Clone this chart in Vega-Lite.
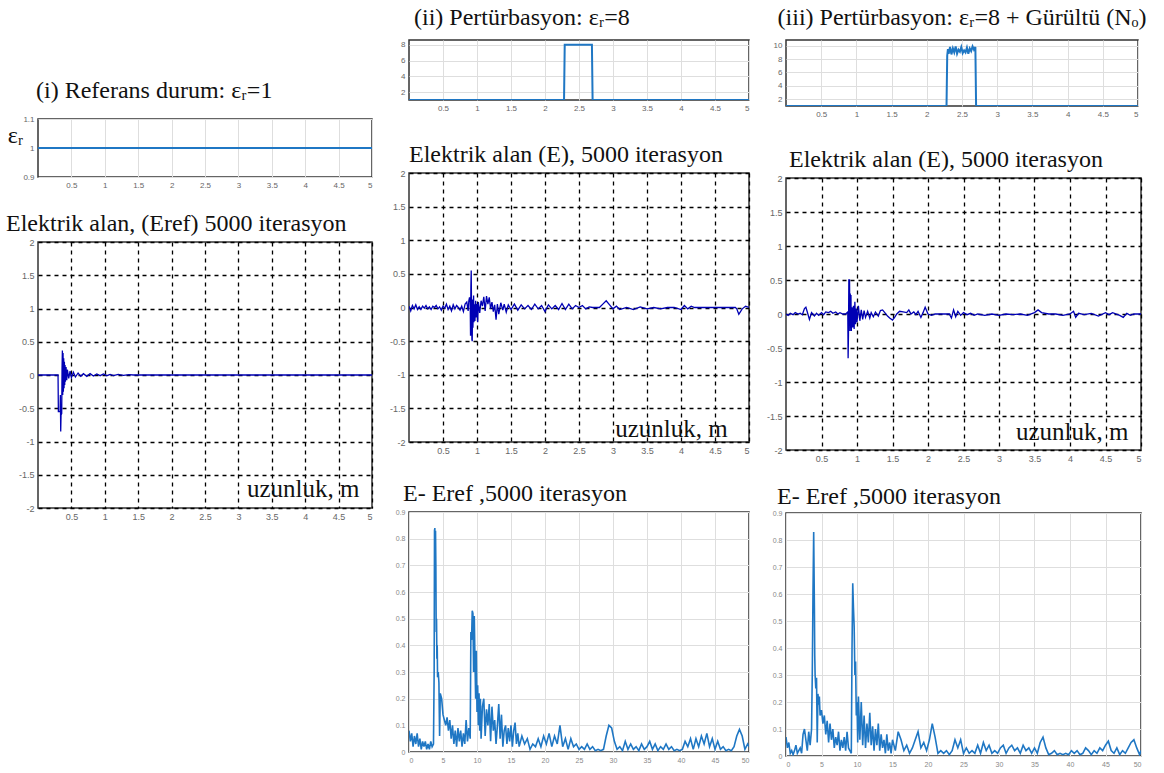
{
"$schema": "https://vega.github.io/schema/vega-lite/v6.json",
"background": "white",
"padding": {"left": 5, "top": 5, "right": 0, "bottom": 0},
"config": {
  "view": {"stroke": "#333", "strokeWidth": 1.5},
  "axis": {"labelFont": "Liberation Sans", "labelFontSize": 9, "labelColor": "#666", "domain": false, "ticks": false, "labelPadding": 4, "labelOverlap": false, "labelBound": false, "gridColor": "#dedede", "title": null, "labelExpr": "(datum.value < 0 ? '-' : '') + abs(datum.value)"},
  "title": {"font": "Liberation Serif", "fontSize": 24, "fontWeight": "normal", "color": "#111", "anchor": "start", "frame": "group", "offset": 10}
},
"datasets": {
  "eps_i": [{"x": 0, "y": 1}, {"x": 5, "y": 1}],
  "eps_ii": [{"x": 0, "y": 1}, {"x": 2.28, "y": 1}, {"x": 2.29, "y": 8}, {"x": 2.69, "y": 8}, {"x": 2.7, "y": 1}, {"x": 5, "y": 1}],
  "eps_iii": [{"x": 0, "y": 1}, {"x": 2.28, "y": 1}, {"x": 2.29, "y": 8.5}, {"x": 2.3, "y": 9.5}, {"x": 2.31, "y": 8.8}, {"x": 2.33, "y": 9.8}, {"x": 2.35, "y": 8.7}, {"x": 2.37, "y": 9.6}, {"x": 2.39, "y": 9.0}, {"x": 2.41, "y": 9.9}, {"x": 2.43, "y": 8.8}, {"x": 2.45, "y": 9.4}, {"x": 2.47, "y": 9.1}, {"x": 2.49, "y": 9.8}, {"x": 2.51, "y": 8.9}, {"x": 2.53, "y": 9.3}, {"x": 2.55, "y": 9.0}, {"x": 2.57, "y": 9.7}, {"x": 2.59, "y": 8.8}, {"x": 2.61, "y": 9.6}, {"x": 2.63, "y": 9.2}, {"x": 2.65, "y": 9.9}, {"x": 2.67, "y": 9.4}, {"x": 2.69, "y": 9.8}, {"x": 2.7, "y": 1}, {"x": 5, "y": 1}],
  "E_ref": [{"x": 0, "y": 0}, {"x": 0.3, "y": 0}, {"x": 0.305, "y": -0.55}, {"x": 0.33, "y": -0.55}, {"x": 0.335, "y": -0.3}, {"x": 0.34, "y": -0.85}, {"x": 0.345, "y": -0.6}, {"x": 0.355, "y": -0.58}, {"x": 0.36, "y": 0.1}, {"x": 0.365, "y": 0.37}, {"x": 0.37, "y": -0.3}, {"x": 0.375, "y": 0.33}, {"x": 0.38, "y": -0.25}, {"x": 0.385, "y": 0.25}, {"x": 0.39, "y": -0.2}, {"x": 0.395, "y": 0.2}, {"x": 0.4, "y": -0.15}, {"x": 0.405, "y": 0.15}, {"x": 0.41, "y": -0.1}, {"x": 0.42, "y": 0.12}, {"x": 0.43, "y": -0.08}, {"x": 0.44, "y": 0.08}, {"x": 0.46, "y": -0.05}, {"x": 0.48, "y": 0.06}, {"x": 0.5, "y": -0.04}, {"x": 0.53, "y": 0.04}, {"x": 0.56, "y": -0.03}, {"x": 0.6, "y": 0.03}, {"x": 0.64, "y": -0.02}, {"x": 0.68, "y": 0.02}, {"x": 0.73, "y": -0.02}, {"x": 0.78, "y": 0.02}, {"x": 0.83, "y": -0.015}, {"x": 0.88, "y": 0.015}, {"x": 0.93, "y": -0.01}, {"x": 0.98, "y": 0.015}, {"x": 1.03, "y": -0.01}, {"x": 1.08, "y": 0.01}, {"x": 1.13, "y": -0.01}, {"x": 1.2, "y": 0.01}, {"x": 1.28, "y": -0.005}, {"x": 1.36, "y": 0.005}, {"x": 1.43, "y": 0}, {"x": 5, "y": 0}],
  "E_ii": [{"x": 0, "y": 0.02}, {"x": 0.025, "y": -0.05}, {"x": 0.05, "y": 0.03}, {"x": 0.075, "y": -0.02}, {"x": 0.1, "y": 0.04}, {"x": 0.125, "y": -0.03}, {"x": 0.15, "y": 0.01}, {"x": 0.175, "y": -0.03}, {"x": 0.2, "y": 0.02}, {"x": 0.225, "y": -0.01}, {"x": 0.25, "y": 0.03}, {"x": 0.275, "y": -0.02}, {"x": 0.3, "y": 0.01}, {"x": 0.325, "y": -0.03}, {"x": 0.35, "y": 0.02}, {"x": 0.375, "y": 0.0}, {"x": 0.4, "y": 0.03}, {"x": 0.425, "y": -0.02}, {"x": 0.45, "y": 0.01}, {"x": 0.475, "y": -0.04}, {"x": 0.5, "y": 0.02}, {"x": 0.525, "y": -0.01}, {"x": 0.55, "y": 0.05}, {"x": 0.575, "y": -0.03}, {"x": 0.6, "y": 0.02}, {"x": 0.625, "y": -0.05}, {"x": 0.65, "y": 0.04}, {"x": 0.675, "y": -0.02}, {"x": 0.7, "y": 0.03}, {"x": 0.725, "y": 0.0}, {"x": 0.75, "y": -0.04}, {"x": 0.775, "y": 0.02}, {"x": 0.8, "y": -0.06}, {"x": 0.825, "y": 0.05}, {"x": 0.85, "y": 0.08}, {"x": 0.87, "y": -0.05}, {"x": 0.88, "y": 0.1}, {"x": 0.89, "y": 0.15}, {"x": 0.9, "y": 0.08}, {"x": 0.905, "y": -0.42}, {"x": 0.91, "y": 0.3}, {"x": 0.915, "y": 0.55}, {"x": 0.92, "y": -0.05}, {"x": 0.925, "y": -0.48}, {"x": 0.93, "y": -0.5}, {"x": 0.935, "y": 0.12}, {"x": 0.94, "y": -0.3}, {"x": 0.95, "y": 0.18}, {"x": 0.955, "y": -0.22}, {"x": 0.96, "y": 0.05}, {"x": 0.97, "y": -0.2}, {"x": 0.98, "y": 0.1}, {"x": 0.99, "y": -0.15}, {"x": 1.0, "y": 0.05}, {"x": 1.01, "y": -0.22}, {"x": 1.02, "y": 0.08}, {"x": 1.04, "y": -0.08}, {"x": 1.06, "y": 0.1}, {"x": 1.08, "y": 0.02}, {"x": 1.1, "y": 0.16}, {"x": 1.12, "y": -0.05}, {"x": 1.14, "y": 0.17}, {"x": 1.16, "y": 0.05}, {"x": 1.18, "y": 0.15}, {"x": 1.2, "y": -0.02}, {"x": 1.22, "y": 0.08}, {"x": 1.24, "y": -0.06}, {"x": 1.26, "y": 0.04}, {"x": 1.28, "y": -0.18}, {"x": 1.3, "y": 0.05}, {"x": 1.32, "y": -0.1}, {"x": 1.35, "y": 0.07}, {"x": 1.38, "y": -0.04}, {"x": 1.4, "y": 0.05}, {"x": 1.43, "y": -0.07}, {"x": 1.46, "y": 0.04}, {"x": 1.5, "y": -0.03}, {"x": 1.55, "y": 0.05}, {"x": 1.6, "y": -0.04}, {"x": 1.65, "y": 0.04}, {"x": 1.7, "y": -0.02}, {"x": 1.75, "y": 0.03}, {"x": 1.8, "y": -0.03}, {"x": 1.85, "y": 0.05}, {"x": 1.9, "y": -0.02}, {"x": 1.95, "y": 0.03}, {"x": 2.0, "y": -0.06}, {"x": 2.05, "y": 0.04}, {"x": 2.1, "y": -0.02}, {"x": 2.15, "y": 0.03}, {"x": 2.2, "y": -0.03}, {"x": 2.25, "y": 0.06}, {"x": 2.3, "y": -0.03}, {"x": 2.35, "y": 0.05}, {"x": 2.4, "y": -0.02}, {"x": 2.45, "y": 0.03}, {"x": 2.5, "y": 0.0}, {"x": 2.55, "y": 0.03}, {"x": 2.6, "y": -0.02}, {"x": 2.65, "y": 0.01}, {"x": 2.7, "y": 0.0}, {"x": 2.8, "y": 0.0}, {"x": 2.85, "y": 0.05}, {"x": 2.9, "y": 0.1}, {"x": 2.95, "y": 0.04}, {"x": 3.0, "y": -0.02}, {"x": 3.05, "y": 0.02}, {"x": 3.1, "y": -0.03}, {"x": 3.2, "y": 0.0}, {"x": 3.3, "y": -0.03}, {"x": 3.4, "y": 0.01}, {"x": 3.5, "y": -0.02}, {"x": 3.6, "y": 0.0}, {"x": 3.7, "y": -0.02}, {"x": 3.8, "y": 0.0}, {"x": 3.9, "y": 0.0}, {"x": 4.0, "y": -0.03}, {"x": 4.05, "y": 0.03}, {"x": 4.1, "y": -0.02}, {"x": 4.15, "y": 0.02}, {"x": 4.2, "y": 0.0}, {"x": 4.8, "y": 0.0}, {"x": 4.82, "y": -0.02}, {"x": 4.85, "y": -0.1}, {"x": 4.9, "y": -0.02}, {"x": 4.95, "y": 0.02}, {"x": 5.0, "y": 0.0}],
  "E_iii": [{"x": 0, "y": 0.0}, {"x": 0.03, "y": -0.02}, {"x": 0.06, "y": 0.01}, {"x": 0.1, "y": -0.01}, {"x": 0.13, "y": 0.02}, {"x": 0.17, "y": 0.0}, {"x": 0.2, "y": 0.01}, {"x": 0.23, "y": -0.01}, {"x": 0.26, "y": 0.08}, {"x": 0.28, "y": 0.1}, {"x": 0.3, "y": 0.03}, {"x": 0.33, "y": -0.08}, {"x": 0.36, "y": 0.02}, {"x": 0.4, "y": -0.03}, {"x": 0.43, "y": 0.01}, {"x": 0.46, "y": -0.02}, {"x": 0.5, "y": 0.02}, {"x": 0.53, "y": -0.01}, {"x": 0.56, "y": 0.03}, {"x": 0.6, "y": 0.02}, {"x": 0.63, "y": 0.04}, {"x": 0.66, "y": 0.01}, {"x": 0.7, "y": 0.03}, {"x": 0.73, "y": 0.0}, {"x": 0.76, "y": 0.02}, {"x": 0.8, "y": 0.0}, {"x": 0.84, "y": 0.0}, {"x": 0.87, "y": 0.03}, {"x": 0.875, "y": -0.65}, {"x": 0.88, "y": -0.3}, {"x": 0.885, "y": 0.5}, {"x": 0.895, "y": 0.5}, {"x": 0.9, "y": -0.25}, {"x": 0.905, "y": 0.3}, {"x": 0.91, "y": -0.2}, {"x": 0.915, "y": 0.28}, {"x": 0.92, "y": -0.25}, {"x": 0.93, "y": 0.1}, {"x": 0.94, "y": -0.2}, {"x": 0.95, "y": 0.12}, {"x": 0.96, "y": -0.22}, {"x": 0.97, "y": 0.18}, {"x": 0.98, "y": -0.15}, {"x": 0.99, "y": 0.08}, {"x": 1.0, "y": -0.12}, {"x": 1.02, "y": 0.12}, {"x": 1.04, "y": -0.1}, {"x": 1.06, "y": 0.06}, {"x": 1.08, "y": -0.08}, {"x": 1.1, "y": 0.05}, {"x": 1.12, "y": -0.05}, {"x": 1.15, "y": 0.04}, {"x": 1.18, "y": -0.06}, {"x": 1.2, "y": 0.02}, {"x": 1.23, "y": -0.04}, {"x": 1.26, "y": 0.03}, {"x": 1.3, "y": -0.03}, {"x": 1.33, "y": 0.05}, {"x": 1.36, "y": 0.06}, {"x": 1.4, "y": 0.01}, {"x": 1.43, "y": -0.03}, {"x": 1.46, "y": -0.06}, {"x": 1.5, "y": -0.09}, {"x": 1.53, "y": -0.05}, {"x": 1.56, "y": 0.0}, {"x": 1.6, "y": 0.04}, {"x": 1.65, "y": 0.03}, {"x": 1.7, "y": 0.02}, {"x": 1.73, "y": 0.06}, {"x": 1.76, "y": 0.0}, {"x": 1.8, "y": 0.03}, {"x": 1.83, "y": -0.01}, {"x": 1.86, "y": 0.04}, {"x": 1.9, "y": -0.05}, {"x": 1.93, "y": 0.02}, {"x": 1.96, "y": 0.1}, {"x": 2.0, "y": 0.0}, {"x": 2.05, "y": -0.02}, {"x": 2.1, "y": 0.0}, {"x": 2.3, "y": 0.0}, {"x": 2.33, "y": -0.06}, {"x": 2.36, "y": 0.06}, {"x": 2.39, "y": -0.04}, {"x": 2.42, "y": 0.04}, {"x": 2.46, "y": -0.02}, {"x": 2.5, "y": 0.02}, {"x": 2.55, "y": -0.01}, {"x": 2.6, "y": 0.01}, {"x": 2.65, "y": -0.02}, {"x": 2.7, "y": 0.0}, {"x": 2.8, "y": -0.02}, {"x": 2.9, "y": 0.0}, {"x": 3.0, "y": -0.02}, {"x": 3.1, "y": 0.0}, {"x": 3.2, "y": -0.01}, {"x": 3.3, "y": 0.0}, {"x": 3.4, "y": -0.02}, {"x": 3.5, "y": 0.02}, {"x": 3.55, "y": 0.06}, {"x": 3.6, "y": 0.02}, {"x": 3.7, "y": 0.0}, {"x": 3.8, "y": 0.0}, {"x": 3.9, "y": -0.02}, {"x": 4.0, "y": 0.0}, {"x": 4.05, "y": 0.04}, {"x": 4.08, "y": -0.05}, {"x": 4.12, "y": 0.01}, {"x": 4.2, "y": -0.01}, {"x": 4.3, "y": 0.01}, {"x": 4.4, "y": -0.03}, {"x": 4.5, "y": 0.02}, {"x": 4.55, "y": -0.01}, {"x": 4.6, "y": 0.02}, {"x": 4.7, "y": -0.02}, {"x": 4.75, "y": -0.05}, {"x": 4.8, "y": 0.01}, {"x": 4.85, "y": -0.02}, {"x": 4.9, "y": 0.0}, {"x": 5.0, "y": 0.0}],
  "S_ii": [{"x": 0, "y": 0.08}, {"x": 0.2, "y": 0.04}, {"x": 0.4, "y": 0.07}, {"x": 0.6, "y": 0.02}, {"x": 0.8, "y": 0.06}, {"x": 1.0, "y": 0.03}, {"x": 1.2, "y": 0.07}, {"x": 1.4, "y": 0.02}, {"x": 1.6, "y": 0.05}, {"x": 1.8, "y": 0.01}, {"x": 2.0, "y": 0.04}, {"x": 2.2, "y": 0.02}, {"x": 2.4, "y": 0.04}, {"x": 2.6, "y": 0.01}, {"x": 2.8, "y": 0.03}, {"x": 3.0, "y": 0.01}, {"x": 3.2, "y": 0.04}, {"x": 3.4, "y": 0.02}, {"x": 3.6, "y": 0.03}, {"x": 3.7, "y": 0.3}, {"x": 3.75, "y": 0.83}, {"x": 3.8, "y": 0.84}, {"x": 3.85, "y": 0.6}, {"x": 3.9, "y": 0.83}, {"x": 3.95, "y": 0.7}, {"x": 4.0, "y": 0.45}, {"x": 4.05, "y": 0.5}, {"x": 4.1, "y": 0.35}, {"x": 4.15, "y": 0.4}, {"x": 4.2, "y": 0.28}, {"x": 4.3, "y": 0.3}, {"x": 4.4, "y": 0.26}, {"x": 4.5, "y": 0.06}, {"x": 4.6, "y": 0.22}, {"x": 4.8, "y": 0.2}, {"x": 5.0, "y": 0.14}, {"x": 5.2, "y": 0.12}, {"x": 5.4, "y": 0.1}, {"x": 5.6, "y": 0.13}, {"x": 5.8, "y": 0.08}, {"x": 6.0, "y": 0.12}, {"x": 6.2, "y": 0.05}, {"x": 6.4, "y": 0.1}, {"x": 6.6, "y": 0.03}, {"x": 6.8, "y": 0.08}, {"x": 7.0, "y": 0.02}, {"x": 7.2, "y": 0.09}, {"x": 7.4, "y": 0.04}, {"x": 7.6, "y": 0.08}, {"x": 7.8, "y": 0.02}, {"x": 8.0, "y": 0.07}, {"x": 8.2, "y": 0.03}, {"x": 8.4, "y": 0.12}, {"x": 8.6, "y": 0.04}, {"x": 8.8, "y": 0.09}, {"x": 9.0, "y": 0.05}, {"x": 9.1, "y": 0.45}, {"x": 9.2, "y": 0.42}, {"x": 9.3, "y": 0.53}, {"x": 9.4, "y": 0.52}, {"x": 9.5, "y": 0.3}, {"x": 9.6, "y": 0.51}, {"x": 9.7, "y": 0.35}, {"x": 9.8, "y": 0.2}, {"x": 9.9, "y": 0.38}, {"x": 10.0, "y": 0.15}, {"x": 10.1, "y": 0.25}, {"x": 10.2, "y": 0.1}, {"x": 10.3, "y": 0.22}, {"x": 10.4, "y": 0.08}, {"x": 10.5, "y": 0.2}, {"x": 10.6, "y": 0.05}, {"x": 10.8, "y": 0.17}, {"x": 11.0, "y": 0.2}, {"x": 11.2, "y": 0.06}, {"x": 11.4, "y": 0.16}, {"x": 11.6, "y": 0.1}, {"x": 11.8, "y": 0.18}, {"x": 12.0, "y": 0.04}, {"x": 12.2, "y": 0.17}, {"x": 12.4, "y": 0.08}, {"x": 12.6, "y": 0.12}, {"x": 12.8, "y": 0.03}, {"x": 13.0, "y": 0.1}, {"x": 13.2, "y": 0.18}, {"x": 13.4, "y": 0.05}, {"x": 13.6, "y": 0.14}, {"x": 13.8, "y": 0.02}, {"x": 14.0, "y": 0.08}, {"x": 14.2, "y": 0.1}, {"x": 14.4, "y": 0.03}, {"x": 14.6, "y": 0.09}, {"x": 14.8, "y": 0.04}, {"x": 15.0, "y": 0.1}, {"x": 15.2, "y": 0.02}, {"x": 15.4, "y": 0.08}, {"x": 15.6, "y": 0.11}, {"x": 15.8, "y": 0.03}, {"x": 16.0, "y": 0.07}, {"x": 16.2, "y": 0.02}, {"x": 16.6, "y": 0.06}, {"x": 17.0, "y": 0.03}, {"x": 17.4, "y": 0.05}, {"x": 17.8, "y": 0.01}, {"x": 18.2, "y": 0.03}, {"x": 18.6, "y": 0.02}, {"x": 19.0, "y": 0.05}, {"x": 19.4, "y": 0.02}, {"x": 19.8, "y": 0.06}, {"x": 20.2, "y": 0.03}, {"x": 20.6, "y": 0.07}, {"x": 21.0, "y": 0.02}, {"x": 21.4, "y": 0.06}, {"x": 21.8, "y": 0.03}, {"x": 22.2, "y": 0.1}, {"x": 22.6, "y": 0.02}, {"x": 23.0, "y": 0.05}, {"x": 23.4, "y": 0.01}, {"x": 23.8, "y": 0.05}, {"x": 24.2, "y": 0.02}, {"x": 24.6, "y": 0.03}, {"x": 25.0, "y": 0.01}, {"x": 25.4, "y": 0.02}, {"x": 25.8, "y": 0.01}, {"x": 26.2, "y": 0.03}, {"x": 26.6, "y": 0.01}, {"x": 27.0, "y": 0.02}, {"x": 27.4, "y": 0.005}, {"x": 27.8, "y": 0.01}, {"x": 28.2, "y": 0.005}, {"x": 28.6, "y": 0.01}, {"x": 29.0, "y": 0.06}, {"x": 29.4, "y": 0.1}, {"x": 29.8, "y": 0.09}, {"x": 30.2, "y": 0.04}, {"x": 30.6, "y": 0.01}, {"x": 31.0, "y": 0.02}, {"x": 31.4, "y": 0.005}, {"x": 31.8, "y": 0.04}, {"x": 32.2, "y": 0.01}, {"x": 32.6, "y": 0.03}, {"x": 33.0, "y": 0.01}, {"x": 33.4, "y": 0.02}, {"x": 33.8, "y": 0.005}, {"x": 34.2, "y": 0.03}, {"x": 34.6, "y": 0.01}, {"x": 35.0, "y": 0.02}, {"x": 35.4, "y": 0.04}, {"x": 35.8, "y": 0.01}, {"x": 36.2, "y": 0.03}, {"x": 36.6, "y": 0.005}, {"x": 37.0, "y": 0.02}, {"x": 37.4, "y": 0.01}, {"x": 37.8, "y": 0.03}, {"x": 38.2, "y": 0.01}, {"x": 38.6, "y": 0.02}, {"x": 39.0, "y": 0.005}, {"x": 39.4, "y": 0.01}, {"x": 39.8, "y": 0.005}, {"x": 40.2, "y": 0.01}, {"x": 40.6, "y": 0.04}, {"x": 41.0, "y": 0.02}, {"x": 41.4, "y": 0.05}, {"x": 41.8, "y": 0.01}, {"x": 42.2, "y": 0.05}, {"x": 42.6, "y": 0.02}, {"x": 43.0, "y": 0.06}, {"x": 43.4, "y": 0.03}, {"x": 43.8, "y": 0.07}, {"x": 44.2, "y": 0.02}, {"x": 44.6, "y": 0.05}, {"x": 45.0, "y": 0.01}, {"x": 45.4, "y": 0.04}, {"x": 45.8, "y": 0.01}, {"x": 46.2, "y": 0.02}, {"x": 46.6, "y": 0.005}, {"x": 47.0, "y": 0.01}, {"x": 47.4, "y": 0.005}, {"x": 47.8, "y": 0.02}, {"x": 48.2, "y": 0.06}, {"x": 48.6, "y": 0.085}, {"x": 49.0, "y": 0.06}, {"x": 49.4, "y": 0.01}, {"x": 49.8, "y": 0.03}, {"x": 50, "y": 0.02}],
  "S_iii": [{"x": 0, "y": 0.07}, {"x": 0.2, "y": 0.03}, {"x": 0.4, "y": 0.05}, {"x": 0.6, "y": 0.01}, {"x": 0.8, "y": 0.02}, {"x": 1.0, "y": 0.005}, {"x": 1.2, "y": 0.02}, {"x": 1.4, "y": 0.04}, {"x": 1.6, "y": 0.01}, {"x": 1.8, "y": 0.02}, {"x": 2.0, "y": 0.03}, {"x": 2.2, "y": 0.01}, {"x": 2.4, "y": 0.08}, {"x": 2.6, "y": 0.1}, {"x": 2.8, "y": 0.06}, {"x": 3.0, "y": 0.02}, {"x": 3.2, "y": 0.09}, {"x": 3.4, "y": 0.04}, {"x": 3.6, "y": 0.1}, {"x": 3.7, "y": 0.3}, {"x": 3.8, "y": 0.6}, {"x": 3.9, "y": 0.83}, {"x": 4.0, "y": 0.55}, {"x": 4.05, "y": 0.37}, {"x": 4.1, "y": 0.3}, {"x": 4.2, "y": 0.25}, {"x": 4.3, "y": 0.29}, {"x": 4.4, "y": 0.05}, {"x": 4.5, "y": 0.23}, {"x": 4.6, "y": 0.19}, {"x": 4.7, "y": 0.22}, {"x": 4.8, "y": 0.15}, {"x": 5.0, "y": 0.17}, {"x": 5.2, "y": 0.12}, {"x": 5.4, "y": 0.15}, {"x": 5.6, "y": 0.08}, {"x": 5.8, "y": 0.13}, {"x": 6.0, "y": 0.05}, {"x": 6.2, "y": 0.12}, {"x": 6.4, "y": 0.06}, {"x": 6.6, "y": 0.1}, {"x": 6.8, "y": 0.03}, {"x": 7.0, "y": 0.07}, {"x": 7.2, "y": 0.04}, {"x": 7.4, "y": 0.09}, {"x": 7.6, "y": 0.02}, {"x": 7.8, "y": 0.06}, {"x": 8.0, "y": 0.03}, {"x": 8.2, "y": 0.07}, {"x": 8.4, "y": 0.02}, {"x": 8.6, "y": 0.09}, {"x": 8.8, "y": 0.03}, {"x": 9.0, "y": 0.02}, {"x": 9.2, "y": 0.01}, {"x": 9.3, "y": 0.4}, {"x": 9.4, "y": 0.64}, {"x": 9.5, "y": 0.55}, {"x": 9.6, "y": 0.48}, {"x": 9.7, "y": 0.3}, {"x": 9.8, "y": 0.35}, {"x": 9.9, "y": 0.15}, {"x": 10.0, "y": 0.2}, {"x": 10.1, "y": 0.05}, {"x": 10.2, "y": 0.22}, {"x": 10.4, "y": 0.06}, {"x": 10.6, "y": 0.2}, {"x": 10.8, "y": 0.04}, {"x": 11.0, "y": 0.15}, {"x": 11.2, "y": 0.03}, {"x": 11.4, "y": 0.12}, {"x": 11.6, "y": 0.05}, {"x": 11.8, "y": 0.16}, {"x": 12.0, "y": 0.04}, {"x": 12.2, "y": 0.11}, {"x": 12.4, "y": 0.02}, {"x": 12.6, "y": 0.1}, {"x": 12.8, "y": 0.04}, {"x": 13.0, "y": 0.12}, {"x": 13.2, "y": 0.02}, {"x": 13.4, "y": 0.08}, {"x": 13.6, "y": 0.03}, {"x": 13.8, "y": 0.06}, {"x": 14.0, "y": 0.01}, {"x": 14.2, "y": 0.08}, {"x": 14.4, "y": 0.02}, {"x": 14.6, "y": 0.05}, {"x": 14.8, "y": 0.01}, {"x": 15.0, "y": 0.06}, {"x": 15.4, "y": 0.02}, {"x": 15.8, "y": 0.09}, {"x": 16.2, "y": 0.06}, {"x": 16.6, "y": 0.02}, {"x": 17.0, "y": 0.04}, {"x": 17.4, "y": 0.01}, {"x": 17.8, "y": 0.03}, {"x": 18.2, "y": 0.06}, {"x": 18.6, "y": 0.09}, {"x": 19.0, "y": 0.03}, {"x": 19.4, "y": 0.05}, {"x": 19.8, "y": 0.02}, {"x": 20.2, "y": 0.06}, {"x": 20.6, "y": 0.12}, {"x": 21.0, "y": 0.07}, {"x": 21.4, "y": 0.01}, {"x": 21.8, "y": 0.02}, {"x": 22.2, "y": 0.01}, {"x": 22.6, "y": 0.02}, {"x": 23.0, "y": 0.005}, {"x": 23.4, "y": 0.02}, {"x": 23.8, "y": 0.06}, {"x": 24.2, "y": 0.03}, {"x": 24.6, "y": 0.06}, {"x": 25.0, "y": 0.01}, {"x": 25.4, "y": 0.03}, {"x": 25.8, "y": 0.01}, {"x": 26.2, "y": 0.02}, {"x": 26.6, "y": 0.01}, {"x": 27.0, "y": 0.04}, {"x": 27.4, "y": 0.01}, {"x": 27.8, "y": 0.05}, {"x": 28.2, "y": 0.02}, {"x": 28.6, "y": 0.04}, {"x": 29.0, "y": 0.01}, {"x": 29.4, "y": 0.02}, {"x": 29.8, "y": 0.01}, {"x": 30.2, "y": 0.03}, {"x": 30.6, "y": 0.04}, {"x": 31.0, "y": 0.01}, {"x": 31.4, "y": 0.03}, {"x": 31.8, "y": 0.04}, {"x": 32.2, "y": 0.02}, {"x": 32.6, "y": 0.03}, {"x": 33.0, "y": 0.01}, {"x": 33.4, "y": 0.04}, {"x": 33.8, "y": 0.02}, {"x": 34.2, "y": 0.03}, {"x": 34.6, "y": 0.01}, {"x": 35.0, "y": 0.03}, {"x": 35.4, "y": 0.01}, {"x": 35.8, "y": 0.05}, {"x": 36.2, "y": 0.07}, {"x": 36.6, "y": 0.03}, {"x": 37.0, "y": 0.005}, {"x": 37.4, "y": 0.01}, {"x": 37.8, "y": 0.02}, {"x": 38.2, "y": 0.005}, {"x": 38.6, "y": 0.01}, {"x": 39.0, "y": 0.005}, {"x": 39.4, "y": 0.01}, {"x": 39.8, "y": 0.005}, {"x": 40.2, "y": 0.02}, {"x": 40.6, "y": 0.01}, {"x": 41.0, "y": 0.02}, {"x": 41.4, "y": 0.005}, {"x": 41.8, "y": 0.01}, {"x": 42.2, "y": 0.03}, {"x": 42.6, "y": 0.02}, {"x": 43.0, "y": 0.005}, {"x": 43.4, "y": 0.02}, {"x": 43.8, "y": 0.01}, {"x": 44.2, "y": 0.03}, {"x": 44.6, "y": 0.02}, {"x": 45.0, "y": 0.04}, {"x": 45.4, "y": 0.055}, {"x": 45.8, "y": 0.02}, {"x": 46.2, "y": 0.01}, {"x": 46.6, "y": 0.03}, {"x": 47.0, "y": 0.005}, {"x": 47.4, "y": 0.02}, {"x": 47.8, "y": 0.01}, {"x": 48.2, "y": 0.03}, {"x": 48.6, "y": 0.05}, {"x": 49.0, "y": 0.06}, {"x": 49.4, "y": 0.03}, {"x": 49.8, "y": 0.005}, {"x": 50, "y": 0.02}]
},
"spacing": 15,
"hconcat": [
  {
    "spacing": 21,
    "vconcat": [
      {
        "width": 334, "height": 17,
        "data": {"values": []},
        "mark": "point",
        "view": {"stroke": null}
      },
      {
        "width": 334, "height": 58,
        "title": {"text": "(i) Referans durum: εᵣ=1", "offset": 12, "dx": -2},
        "data": {"name": "eps_i"},
        "mark": {"type": "line", "color": "#1f77c4", "strokeWidth": 2, "clip": true},
        "encoding": {
          "x": {"field": "x", "type": "quantitative", "scale": {"domain": [0, 5], "nice": false}, "axis": {"values": [0.5, 1, 1.5, 2, 2.5, 3, 3.5, 4, 4.5, 5], "grid": true, "labelFontSize": 8, "labelOverlap": false}},
          "y": {"field": "y", "type": "quantitative", "scale": {"domain": [0.9, 1.1], "nice": false, "zero": false}, "axis": {"values": [0.9, 1, 1.1], "grid": true, "labelFontSize": 8, "labelOverlap": false, "title": "εᵣ", "titleFont": "Liberation Serif", "titleFontSize": 24, "titleFontWeight": "normal", "titleAngle": 0, "titleColor": "#111", "titleBaseline": "middle", "titleAlign": "right", "titleY": 16, "titlePadding": 0}}
        }
      },
      {
        "width": 334, "height": 266,
        "title": {"text": "Elektrik alan, (Eref) 5000 iterasyon", "dx": -32, "offset": 2},
        "resolve": {"axis": {"x": "independent", "y": "independent"}},
        "layer": [
          {
            "data": {"name": "E_ref"},
            "mark": {"type": "line", "color": "#0000b4", "strokeWidth": 1.3, "clip": true},
            "encoding": {
              "x": {"field": "x", "type": "quantitative", "scale": {"domain": [0, 5], "nice": false}, "axis": {"values": [0.5, 1, 1.5, 2, 2.5, 3, 3.5, 4, 4.5, 5], "labelOverlap": false, "grid": true, "gridColor": "#000", "gridDash": [4, 4], "gridWidth": 1.3}},
              "y": {"field": "y", "type": "quantitative", "scale": {"domain": [-2, 2], "nice": false}, "axis": {"values": [-2, -1.5, -1, -0.5, 0, 0.5, 1, 1.5, 2], "labelOverlap": false, "grid": true, "gridColor": "#000", "gridDash": [4, 4], "gridWidth": 1.3}}
            }
          },
          {
            "data": {"values": [{}]},
            "mark": {"type": "text", "text": "uzunluk, m", "font": "Liberation Serif", "fontSize": 25, "color": "#111", "align": "center", "baseline": "middle"},
            "encoding": {"x": {"datum": 3.97, "type": "quantitative", "axis": null}, "y": {"datum": -1.72, "type": "quantitative", "axis": null}}
          }
        ]
      }
    ]
  },
  {
    "spacing": 25,
    "vconcat": [
      {
        "width": 340, "height": 60,
        "title": {"text": "(ii) Pertürbasyon: εᵣ=8", "dx": 5},
        "data": {"name": "eps_ii"},
        "mark": {"type": "line", "color": "#1f77c4", "strokeWidth": 2, "clip": true},
        "encoding": {
          "x": {"field": "x", "type": "quantitative", "scale": {"domain": [0, 5], "nice": false}, "axis": {"values": [0.5, 1, 1.5, 2, 2.5, 3, 3.5, 4, 4.5, 5], "grid": true, "labelFontSize": 8, "labelOverlap": false, "title": " ", "titleFontSize": 4, "titlePadding": 0}},
          "y": {"field": "y", "type": "quantitative", "scale": {"domain": [1, 8.6], "nice": false, "zero": false}, "axis": {"values": [2, 4, 6, 8], "grid": true, "labelFontSize": 8, "labelOverlap": false}}
        }
      },
      {
        "width": 340, "height": 269,
        "title": {"text": "Elektrik alan (E), 5000 iterasyon", "offset": 2},
        "resolve": {"axis": {"x": "independent", "y": "independent"}},
        "layer": [
          {
            "data": {"name": "E_ii"},
            "mark": {"type": "line", "color": "#0000b4", "strokeWidth": 1.3, "clip": true},
            "encoding": {
              "x": {"field": "x", "type": "quantitative", "scale": {"domain": [0, 5], "nice": false}, "axis": {"values": [0.5, 1, 1.5, 2, 2.5, 3, 3.5, 4, 4.5, 5], "labelOverlap": false, "grid": true, "gridColor": "#000", "gridDash": [4, 4], "gridWidth": 1.3}},
              "y": {"field": "y", "type": "quantitative", "scale": {"domain": [-2, 2], "nice": false}, "axis": {"values": [-2, -1.5, -1, -0.5, 0, 0.5, 1, 1.5, 2], "labelOverlap": false, "grid": true, "gridColor": "#000", "gridDash": [4, 4], "gridWidth": 1.3}}
            }
          },
          {
            "data": {"values": [{}]},
            "mark": {"type": "text", "text": "uzunluk, m", "font": "Liberation Serif", "fontSize": 25, "color": "#111", "align": "center", "baseline": "middle"},
            "encoding": {"x": {"datum": 3.86, "type": "quantitative", "axis": null}, "y": {"datum": -1.8, "type": "quantitative", "axis": null}}
          }
        ]
      },
      {
        "width": 340, "height": 240,
        "title": {"text": "E- Eref ,5000 iterasyon", "dx": -6, "offset": 2},
        "data": {"name": "S_ii"},
        "mark": {"type": "line", "color": "#1f77c4", "strokeWidth": 1.6, "clip": true},
        "encoding": {
          "x": {"field": "x", "type": "quantitative", "scale": {"domain": [0, 50], "nice": false}, "axis": {"values": [0, 5, 10, 15, 20, 25, 30, 35, 40, 45, 50], "grid": true, "labelFontSize": 7, "labelColor": "#888", "labelOverlap": false}},
          "y": {"field": "y", "type": "quantitative", "scale": {"domain": [0, 0.9], "nice": false}, "axis": {"values": [0, 0.1, 0.2, 0.3, 0.4, 0.5, 0.6, 0.7, 0.8, 0.9], "grid": true, "labelFontSize": 7, "labelColor": "#888", "labelOverlap": false}}
        }
      }
    ]
  },
  {
    "spacing": 20,
    "vconcat": [
      {
        "width": 352, "height": 66,
        "title": {"text": "(iii) Pertürbasyon: εᵣ=8 + Gürültü (Nₒ)", "anchor": "middle"},
        "data": {"name": "eps_iii"},
        "mark": {"type": "line", "color": "#1f77c4", "strokeWidth": 2, "clip": true},
        "encoding": {
          "x": {"field": "x", "type": "quantitative", "scale": {"domain": [0, 5], "nice": false}, "axis": {"values": [0.5, 1, 1.5, 2, 2.5, 3, 3.5, 4, 4.5, 5], "grid": true, "labelFontSize": 8, "labelOverlap": false, "title": " ", "titleFontSize": 6, "titlePadding": 2}},
          "y": {"field": "y", "type": "quantitative", "scale": {"domain": [1, 10.85], "nice": false, "zero": false}, "axis": {"values": [2, 4, 6, 8, 10], "grid": true, "labelFontSize": 8, "labelOverlap": false}}
        }
      },
      {
        "width": 355, "height": 272,
        "title": {"text": "Elektrik alan (E), 5000 iterasyon", "offset": 2, "dx": 3},
        "resolve": {"axis": {"x": "independent", "y": "independent"}},
        "layer": [
          {
            "data": {"name": "E_iii"},
            "mark": {"type": "line", "color": "#0000b4", "strokeWidth": 1.3, "clip": true},
            "encoding": {
              "x": {"field": "x", "type": "quantitative", "scale": {"domain": [0, 5], "nice": false}, "axis": {"values": [0.5, 1, 1.5, 2, 2.5, 3, 3.5, 4, 4.5, 5], "labelOverlap": false, "grid": true, "gridColor": "#000", "gridDash": [4, 4], "gridWidth": 1.3}},
              "y": {"field": "y", "type": "quantitative", "scale": {"domain": [-2, 2], "nice": false}, "axis": {"values": [-2, -1.5, -1, -0.5, 0, 0.5, 1, 1.5, 2], "labelOverlap": false, "grid": true, "gridColor": "#000", "gridDash": [4, 4], "gridWidth": 1.3}}
            }
          },
          {
            "data": {"values": [{}]},
            "mark": {"type": "text", "text": "uzunluk, m", "font": "Liberation Serif", "fontSize": 25, "color": "#111", "align": "center", "baseline": "middle"},
            "encoding": {"x": {"datum": 4.03, "type": "quantitative", "axis": null}, "y": {"datum": -1.74, "type": "quantitative", "axis": null}}
          }
        ]
      },
      {
        "width": 355, "height": 243,
        "title": {"text": "E- Eref ,5000 iterasyon", "dx": -9, "offset": 0},
        "data": {"name": "S_iii"},
        "mark": {"type": "line", "color": "#1f77c4", "strokeWidth": 1.6, "clip": true},
        "encoding": {
          "x": {"field": "x", "type": "quantitative", "scale": {"domain": [0, 50], "nice": false}, "axis": {"values": [0, 5, 10, 15, 20, 25, 30, 35, 40, 45, 50], "grid": true, "labelFontSize": 7, "labelColor": "#888", "labelOverlap": false}},
          "y": {"field": "y", "type": "quantitative", "scale": {"domain": [0, 0.9], "nice": false}, "axis": {"values": [0, 0.1, 0.2, 0.3, 0.4, 0.5, 0.6, 0.7, 0.8, 0.9], "grid": true, "labelFontSize": 7, "labelColor": "#888", "labelOverlap": false}}
        }
      }
    ]
  }
]
}
